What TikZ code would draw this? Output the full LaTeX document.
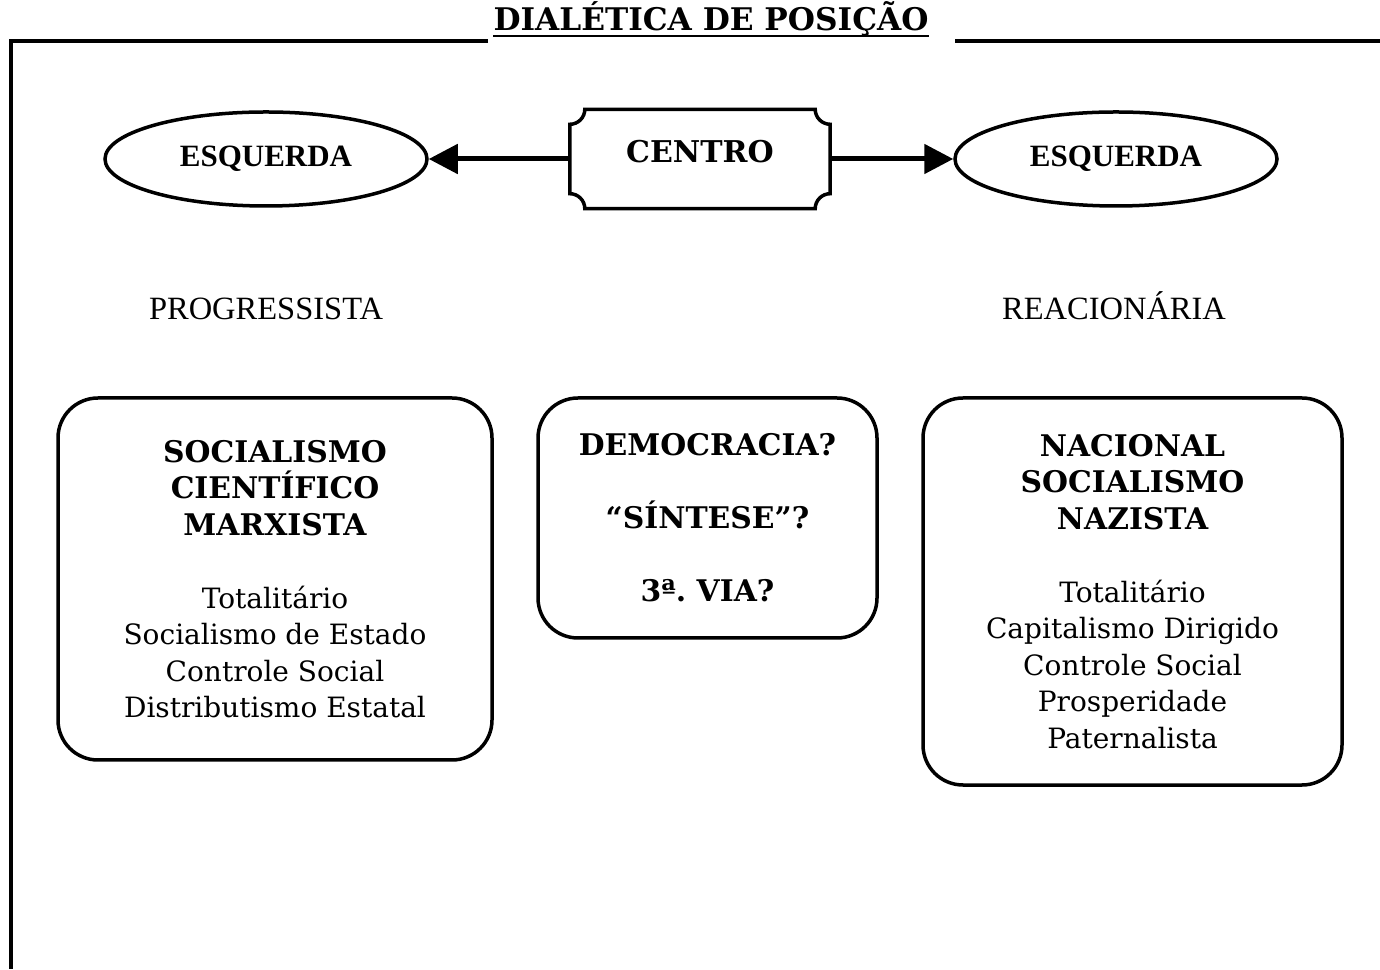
\documentclass[tikz,border=0pt]{standalone}
\usepackage{fontspec}
\setmainfont{DejaVu Serif}
\newfontfamily\timesfont{Liberation Serif}
\usetikzlibrary{shapes.geometric,arrows.meta}
\frenchspacing

\newcommand\hd[1]{{\bfseries\fontsize{29.8}{36.5}\selectfont #1}}

\begin{document}
\begin{tikzpicture}[x=1pt,y=1pt,
		posnode/.style={draw, ellipse, line width=3.5pt, minimum width=322pt, minimum height=94pt, inner sep=0pt,
			font=\timesfont\bfseries\fontsize{31}{36}\selectfont},
		side/.style={anchor=base, font=\timesfont\fontsize{32.5}{36}\selectfont},
		ideo/.style={draw, rectangle, rounded corners=40pt, line width=3.5pt, align=center, inner sep=0pt,
			font=\fontsize{28}{36.5}\selectfont},
		arr/.style={line width=5pt, -{Triangle[length=29pt,width=29pt]}},
		frame/.style={line width=4pt}]
	\useasboundingbox (0,0) rectangle (1380,969);

	% titulo e moldura
	\node[font=\bfseries\fontsize{31.2}{36}\selectfont, inner sep=0pt, anchor=base] (title) at (711,938) {DIALÉTICA DE POSIÇÃO};
	\draw[line width=2.5pt] ([yshift=-5pt]title.base west) -- ([yshift=-5pt]title.base east);
	\coordinate (tl) at (11,928);
	\coordinate (bl) at (11,0);
	\coordinate (tr) at (1380,928);
	\coordinate (gapL) at (488,928);
	\coordinate (gapR) at (955,928);
	\draw[frame] (gapL) -- (tl) -- (bl);
	\draw[frame] (gapR) -- (tr);

	% posicoes
	\node[posnode] (esqL) at (266,810) {ESQUERDA};
	\node[posnode] (esqR) at (1116,810) {ESQUERDA};
	\node[minimum width=260pt, minimum height=99pt, inner sep=0pt] (centro) at (700,810) {};
	\draw[line width=3.5pt] ([xshift=15pt]centro.north west) -- ([xshift=-15pt]centro.north east)
		arc[start angle=180, end angle=270, radius=15pt] -- ([yshift=15pt]centro.south east)
		arc[start angle=90, end angle=180, radius=15pt] -- ([xshift=15pt]centro.south west)
		arc[start angle=0, end angle=90, radius=15pt] -- ([yshift=-15pt]centro.north west)
		arc[start angle=270, end angle=360, radius=15pt] -- cycle;
	\node[font=\bfseries\fontsize{30}{36}\selectfont] (centrotxt) at (700,817) {CENTRO};

	\draw[arr] (centro.west) -- (esqL);
	\draw[arr] (centro.east) -- (esqR);

	\node[side] (prog) at (266,649) {PROGRESSISTA};
	\node[side] (reac) at (1114,649) {REACIONÁRIA};

	% blocos
	\node[ideo, minimum width=434pt, minimum height=362pt] (marx) at (275,390)
		{\hd{SOCIALISMO}\\ \hd{CIENTÍFICO}\\ \hd{MARXISTA}\\[36.5pt]
		 Totalitário\\ Socialismo de Estado\\ Controle Social\\ Distributismo Estatal};
	\node[ideo, minimum width=339pt, minimum height=240pt] (demo) at (707.5,451)
		{\hd{DEMOCRACIA?}\\[36.5pt] \hd{“SÍNTESE”?}\\[36.5pt] \hd{3ª. VIA?}};
	\node[ideo, minimum width=419pt, minimum height=387pt] (nazi) at (1132.5,377.5)
		{\hd{NACIONAL}\\ \hd{SOCIALISMO}\\ \hd{NAZISTA}\\[36.5pt]
		 Totalitário\\ Capitalismo Dirigido\\ Controle Social\\ Prosperidade\\ Paternalista};
\end{tikzpicture}
\end{document}
